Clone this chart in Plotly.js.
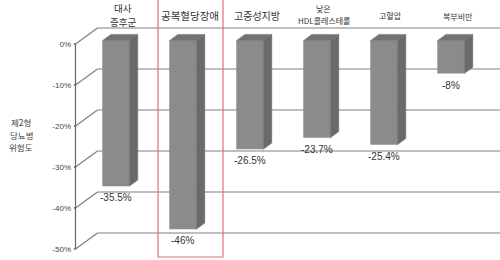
<!DOCTYPE html>
<html>
<head>
<meta charset="utf-8">
<script src="https://cdn.plot.ly/plotly-3.0.1.min.js"></script>
<style>html,body{margin:0;padding:0;background:#fff}#chart{width:500px;height:260px}</style>
</head>
<body>
<div id="chart"></div>
<script>
// ---- data ----
const categories = ['대사<br>증후군', '공복혈당장애', '고중성지방', '낮은<br>HDL콜레스테롤', '고혈압', '복부비만'];
const values = [-35.5, -46, -26.5, -23.7, -25.4, -8];
const valueLabels = ['-35.5%', '-46%', '-26.5%', '-23.7%', '-25.4%', '-8%'];
const tickValues = [0, -10, -20, -30, -40, -50];
const tickLabels = ['0%', '-10%', '-20%', '-30%', '-40%', '-50%'];
const yTitle = '제2형<br>당뇨병<br>위험도';
const highlightIndex = 1;

// ---- geometry / styling ----
const W = 500, H = 260;
const plotLeft = 72;
const pxPerCat = 67, pxPerPct = 4.1;
const firstBarPx = 115.8, zeroPx = 44;
const xRange = [(plotLeft - firstBarPx) / pxPerCat, (W - firstBarPx) / pxPerCat];
const yRange = [-(H - zeroPx) / pxPerPct, zeroPx / pxPerPct];
const frontAxisX = (75.5 - firstBarPx) / pxPerCat;
const wallDx = 22 / pxPerCat, wallDy = 16 / pxPerPct;
const barBase = 3.3 / pxPerPct;
const barW = 27 / pxPerCat;
const depthDx = 8.5 / pxPerCat, depthDy = 6.3 / pxPerPct;
const labelFontSizes = [9.5, 10.5, 10, 8, 8, 8];
const labelLineGap = [14, 0, 0, 11.5, 0, 0];
const labelCenterPx = [15, 15, 15, 14.5, 15, 16];
const catFont = '"Noto Sans CJK KR", "Noto Sans", sans-serif';
const numFont = '"Liberation Sans", Arial, sans-serif';
const xs = categories.map((_, i) => i);

const traces = [];
traces.push({
  type: 'bar', x: xs, y: values, base: barBase, width: barW,
  marker: {color: '#8b8b8b', line: {width: 0}}, hoverinfo: 'skip', showlegend: false
});
xs.forEach((xi, i) => {
  const l = xi - barW / 2, r = xi + barW / 2;
  const top = barBase, bot = barBase + values[i];
  traces.push({
    type: 'scatter', mode: 'lines', fill: 'toself', fillcolor: '#6a6a6a',
    line: {color: '#6a6a6a', width: 0.5}, hoverinfo: 'skip', showlegend: false,
    x: [r, r + depthDx, r + depthDx, r, r],
    y: [top, top + depthDy, bot + depthDy, bot, top]
  });
  traces.push({
    type: 'scatter', mode: 'lines', fill: 'toself', fillcolor: '#727272',
    line: {color: '#727272', width: 0.5}, hoverinfo: 'skip', showlegend: false,
    x: [l, r, r + depthDx, l + depthDx, l],
    y: [top, top, top + depthDy, top + depthDy, top]
  });
});

const gridColor = '#808080';
const shapes = [];
tickValues.forEach(v => {
  shapes.push({type: 'line', layer: 'below', xref: 'x', yref: 'y',
    x0: frontAxisX, y0: v, x1: frontAxisX + wallDx, y1: v + wallDy,
    line: {color: gridColor, width: 1.2}});
  shapes.push({type: 'line', layer: 'below', xref: 'x', yref: 'y',
    x0: frontAxisX + wallDx, y0: v + wallDy, x1: xRange[1], y1: v + wallDy,
    line: {color: gridColor, width: 1.2}});
  shapes.push({type: 'line', layer: 'below', xref: 'x', yref: 'y',
    x0: frontAxisX - 1.5 / pxPerCat, y0: v, x1: frontAxisX, y1: v,
    line: {color: '#555', width: 1.5}});
});
shapes.push({type: 'line', layer: 'below', xref: 'x', yref: 'y',
  x0: frontAxisX, y0: Math.max(...tickValues), x1: frontAxisX, y1: Math.min(...tickValues),
  line: {color: '#666', width: 1.2}});
shapes.push({type: 'rect', layer: 'above', xref: 'x', yref: 'paper',
  x0: highlightIndex - 0.37, x1: highlightIndex + 0.6, y0: 1 - 257 / H, y1: 1.02,
  line: {color: 'rgb(226,110,118)', width: 1.2}, fillcolor: 'rgba(0,0,0,0)'});

const annotations = [];
xs.forEach((xi, i) => {
  annotations.push({
    x: xi, y: barBase + values[i], xref: 'x', yref: 'y',
    text: valueLabels[i], showarrow: false, xanchor: 'center', yanchor: 'top', yshift: -4,
    font: {family: numFont, size: 10, color: '#333'}
  });
  const lines = categories[i].split('<br>');
  const n = lines.length;
  lines.forEach((t, k) => {
    const cy = labelCenterPx[i] + (k - (n - 1) / 2) * labelLineGap[i];
    annotations.push({
      x: xi + 0.1, y: 1 - cy / H, xref: 'x', yref: 'paper',
      text: t, showarrow: false, xanchor: 'center', yanchor: 'middle',
      font: {family: catFont, size: labelFontSizes[i], color: '#333'}
    });
  });
});
yTitle.split('<br>').forEach((t, k, arr) => {
  const cy = 134.5 + (k - (arr.length - 1) / 2) * 12.5;
  annotations.push({
    x: (21 - plotLeft) / (W - plotLeft), y: 1 - cy / H, xref: 'paper', yref: 'paper',
    text: t, showarrow: false, xanchor: 'center', yanchor: 'middle',
    font: {family: catFont, size: 8.5, color: '#444'}
  });
});

const layout = {
  width: W, height: H,
  margin: {l: plotLeft, r: 0, t: 0, b: 0, pad: 0},
  paper_bgcolor: '#fff', plot_bgcolor: '#fff',
  showlegend: false,
  xaxis: {range: xRange, visible: false, fixedrange: true},
  yaxis: {range: yRange, tickvals: tickValues, ticktext: tickLabels, showgrid: false,
    zeroline: false, showline: false, ticks: '', fixedrange: true,
    tickfont: {family: numFont, size: 8, color: '#444'}},
  shapes: shapes, annotations: annotations
};

Plotly.newPlot('chart', traces, layout, {staticPlot: true, displayModeBar: false});
</script>
</body>
</html>
